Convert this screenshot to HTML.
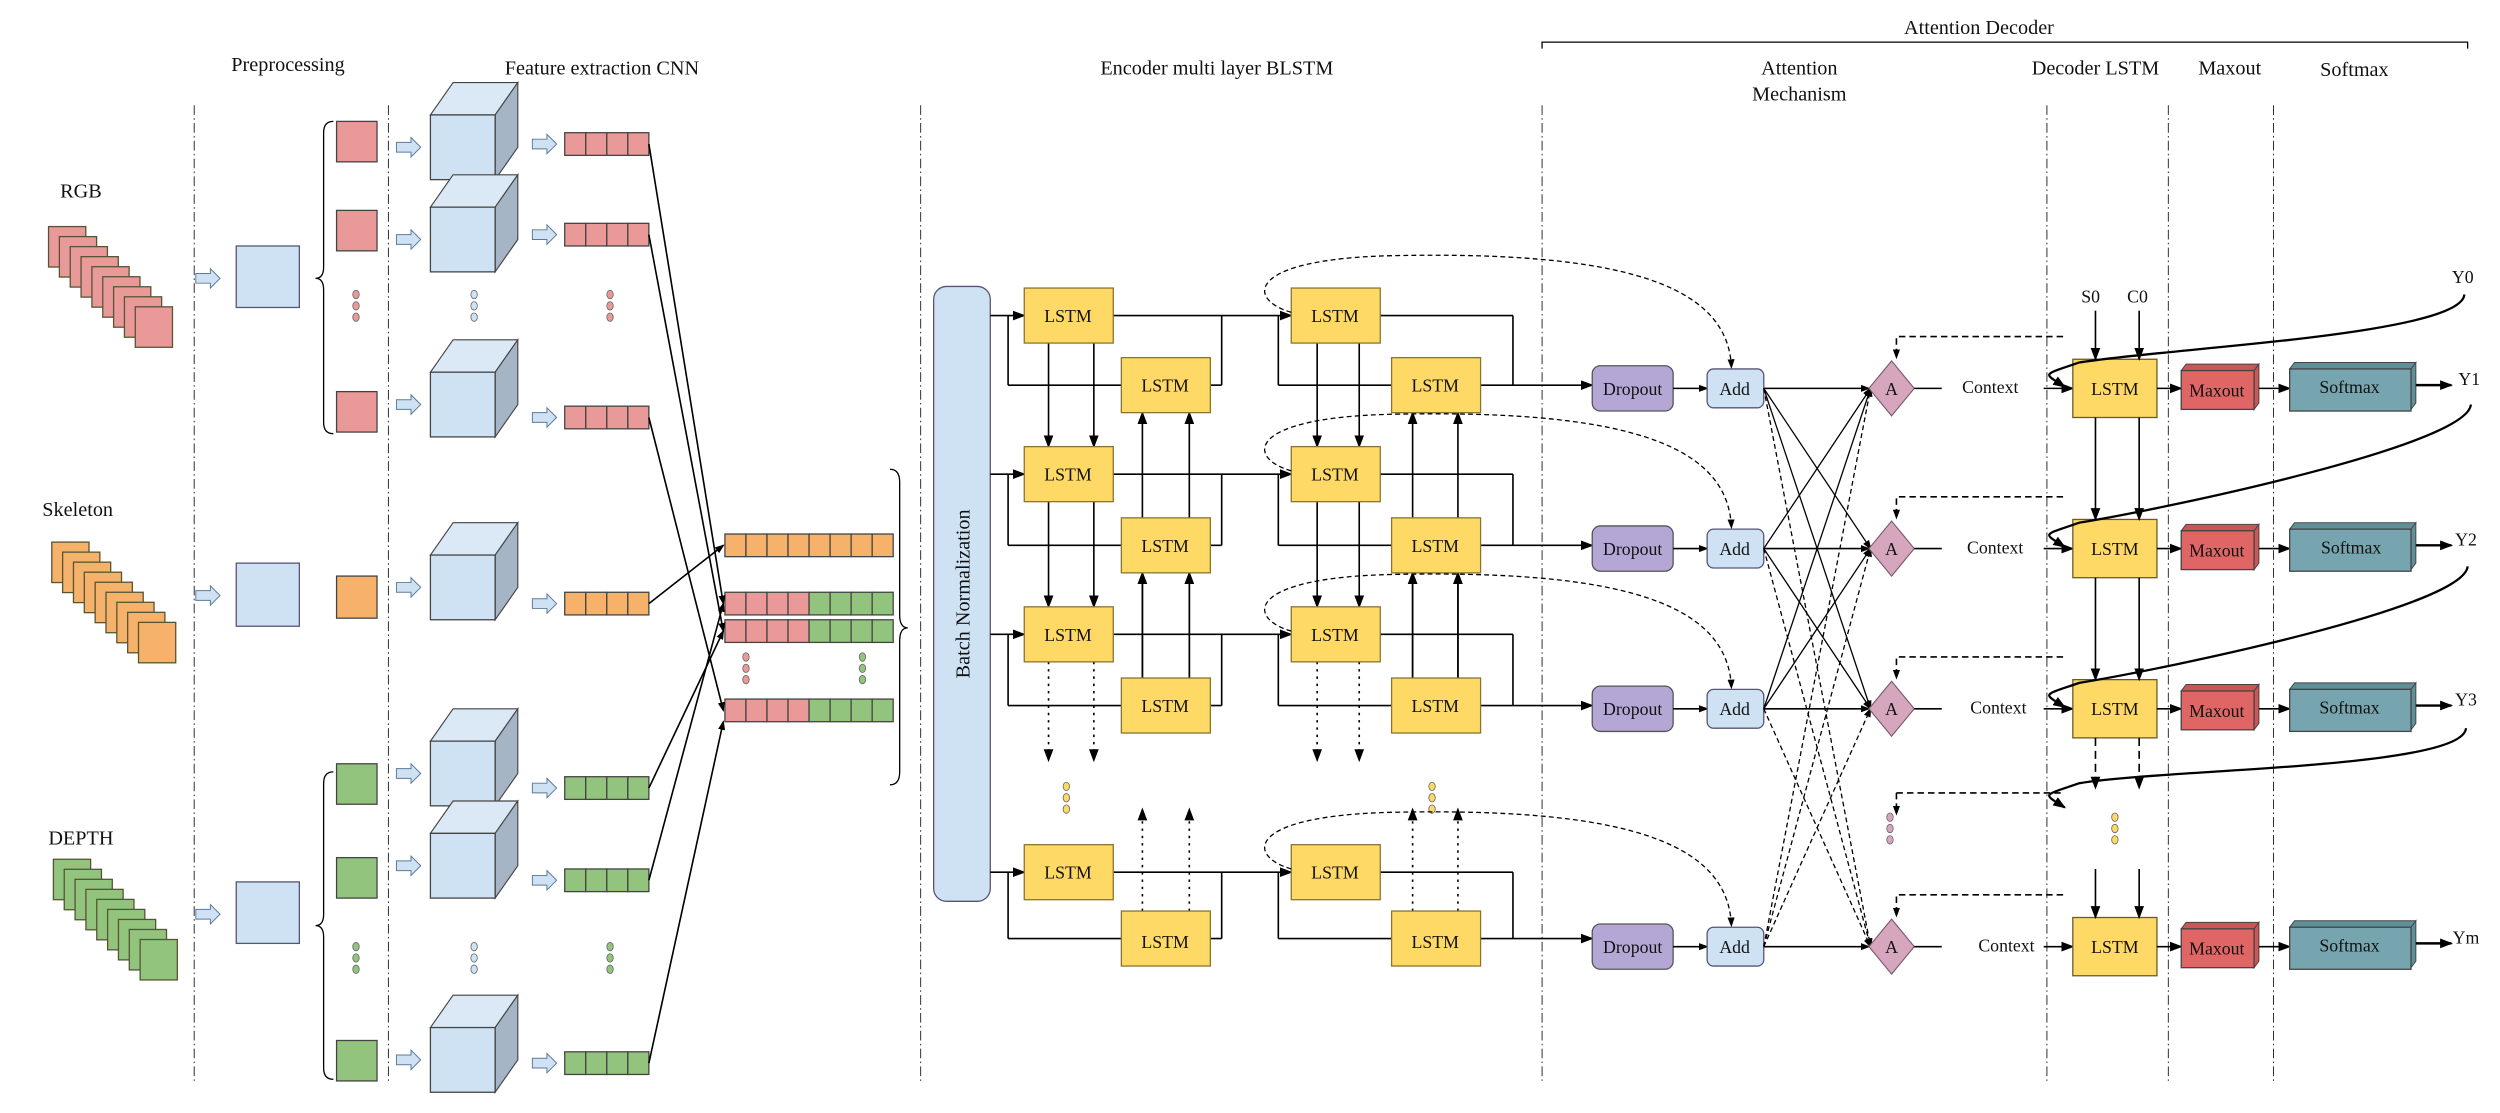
<!DOCTYPE html>
<html><head><meta charset="utf-8"><style>
html,body{margin:0;padding:0;background:#fff;}
svg{display:block;}
text{font-family:"Liberation Serif",serif;fill:#111;}
</style></head><body>
<svg id="s" width="2500" height="1113" viewBox="0 0 1545 687.8" xmlns="http://www.w3.org/2000/svg">
<defs>
<marker id="ah" markerWidth="8" markerHeight="8" refX="7" refY="4" orient="auto" markerUnits="userSpaceOnUse"><path d="M0,1 L8,4 L0,7 z" fill="#000"/></marker>
<marker id="ahs" markerWidth="6" markerHeight="6" refX="5" refY="3" orient="auto" markerUnits="userSpaceOnUse"><path d="M0,0.8 L6,3 L0,5.2 z" fill="#000"/></marker>
</defs>
<g id="geo"></g>
<g id="txt" font-size="11" text-anchor="middle">
<text x="1223" y="21" font-size="12.5">Attention Decoder</text>
<text x="178" y="44" font-size="12.5">Preprocessing</text>
<text x="372" y="46" font-size="12.5">Feature extraction CNN</text>
<text x="752" y="46" font-size="12.5">Encoder multi layer BLSTM</text>
<text x="1112" y="46" font-size="12.5">Attention</text>
<text x="1112" y="62" font-size="12.5">Mechanism</text>
<text x="1295" y="46" font-size="12.5">Decoder LSTM</text>
<text x="1378" y="46" font-size="12.5">Maxout</text>
<text x="1455" y="47" font-size="12.5">Softmax</text>
<text x="50" y="122" font-size="12.5">RGB</text>
<text x="48" y="319" font-size="12.5">Skeleton</text>
<text x="50" y="522" font-size="12.5">DEPTH</text>
<text transform="translate(599,367) rotate(-90)" font-size="12.5">Batch Normalization</text>
<text x="660" y="199">LSTM</text><text x="720" y="242">LSTM</text><text x="825" y="199">LSTM</text><text x="887" y="242">LSTM</text>
<text x="660" y="297">LSTM</text><text x="720" y="341">LSTM</text><text x="825" y="297">LSTM</text><text x="887" y="341">LSTM</text>
<text x="660" y="396">LSTM</text><text x="720" y="440">LSTM</text><text x="825" y="396">LSTM</text><text x="887" y="440">LSTM</text>
<text x="660" y="543">LSTM</text><text x="720" y="586">LSTM</text><text x="825" y="543">LSTM</text><text x="887" y="586">LSTM</text>
<text x="1009" y="244">Dropout</text><text x="1009" y="343">Dropout</text><text x="1009" y="442">Dropout</text><text x="1009" y="589">Dropout</text>
<text x="1072" y="244">Add</text><text x="1072" y="343">Add</text><text x="1072" y="442">Add</text><text x="1072" y="589">Add</text>
<text x="1169" y="244">A</text><text x="1169" y="343">A</text><text x="1169" y="442">A</text><text x="1169" y="589">A</text>
<text x="1230" y="243">Context</text><text x="1233" y="342">Context</text><text x="1235" y="441">Context</text><text x="1240" y="588">Context</text>
<text x="1307" y="244">LSTM</text><text x="1307" y="343">LSTM</text><text x="1307" y="442">LSTM</text><text x="1307" y="589">LSTM</text>
<text x="1370" y="245">Maxout</text><text x="1370" y="344">Maxout</text><text x="1370" y="443">Maxout</text><text x="1370" y="590">Maxout</text>
<text x="1452" y="243">Softmax</text><text x="1453" y="342">Softmax</text><text x="1452" y="441">Softmax</text><text x="1452" y="588">Softmax</text>
<text x="1292" y="187">S0</text><text x="1321" y="187">C0</text>
<text x="1522" y="175">Y0</text><text x="1526" y="238">Y1</text><text x="1524" y="337">Y2</text><text x="1524" y="436">Y3</text><text x="1524" y="583">Ym</text>
</g>
</svg>
<script>
var g=document.getElementById('geo');var h='';
function R(x,y,w,hh,f,st,rx){h+='<rect x="'+x+'" y="'+y+'" width="'+w+'" height="'+hh+'" fill="'+f+'" stroke="'+(st||'#444')+'" stroke-width="0.8"'+(rx?' rx="'+rx+'"':'')+'/>';}
function L(x1,y1,x2,y2,o){h+='<line x1="'+x1+'" y1="'+y1+'" x2="'+x2+'" y2="'+y2+'" stroke="#000" stroke-width="'+((o&&o.w)||1)+'"'+(o&&o.d?' stroke-dasharray="'+o.d+'"':'')+(o&&o.a?' marker-end="url(#'+o.a+')"':'')+'/>';}
function P(d,o){h+='<path d="'+d+'" fill="none" stroke="#000" stroke-width="'+((o&&o.w)||1)+'"'+(o&&o.d?' stroke-dasharray="'+o.d+'"':'')+(o&&o.a?' marker-end="url(#'+o.a+')"':'')+'/>';}
function C(x,y,f){h+='<ellipse cx="'+x+'" cy="'+y+'" rx="2" ry="2.6" fill="'+f+'" stroke="#666" stroke-width="0.5"/>';}
function dots(x,y,f){C(x,y,f);C(x,y+7,f);C(x,y+14,f);}
function barr(x,y){h+='<path d="M'+x+','+(y-3)+' h9 v-3 l6,6 l-6,6 v-3 h-9 z" fill="#cfe2f3" stroke="#5a7a9a" stroke-width="0.6"/>';}
// vertical dash-dot lines
[120,240,569,953,1265,1340,1405].forEach(function(x){L(x,65,x,670,{w:0.5,d:'6 2 1 2'});});
// top bracket
P('M953,30 V26 H1525 V30',{w:0.8});
var red='#ea9999',ora='#f6b26b',grn='#93c47d',blu='#cfe2f3',yel='#ffd966';
function stack(x0,y0,f){for(var i=0;i<9;i++)R(x0+i*6.7,y0+i*6.2,23,25,f,'#553');}
stack(30,140,red);stack(32,335,ora);stack(33,531,grn);
barr(121,172);barr(121,368);barr(121,565);
R(146,152,39,38,blu,'#557');R(146,348,39,39,blu,'#557');R(146,545,39,38,blu,'#557');
// braces
P('M206,75 Q200,75 200,82 V165 Q200,172 195,172 Q200,172 200,179 V261 Q200,268 206,268',{w:0.8});
P('M206,477 Q200,477 200,484 V565 Q200,572 195,572 Q200,572 200,579 V660 Q200,667 206,667',{w:0.8});
P('M550,290 Q556,290 556,298 V380 Q556,388 561,388 Q556,388 556,396 V477 Q556,485 550,485',{w:0.8});
function cube(x,y){h+='<path d="M'+x+','+y+' l14,-20 h40 l-14,20 z" fill="#dbe8f5" stroke="#444" stroke-width="0.7"/>';h+='<path d="M'+(x+40)+','+y+' l14,-20 v40 l-14,20 z" fill="#a5b5c6" stroke="#444" stroke-width="0.7"/>';R(x,y,40,40,blu,'#444');}
function bar(x,y,cols){for(var i=0;i<cols.length;i++)R(x+i*13,y,13,14,cols[i],'#444');}
var rows=[[87,red,91],[142,red,148],[256,red,252],[355,ora,366],[471,grn,481],[529,grn,537],[642,grn,656]];
[[208,75],[208,130],[208,242]].forEach(function(p){R(p[0],p[1],25,25,red,'#444');});
R(208,356,25,26,ora,'#444');
[[208,472],[208,530],[208,643]].forEach(function(p){R(p[0],p[1],25,25,grn,'#444');});
dots(220,182,red);dots(220,585,grn);
var cy=[91,148,250,363,478,535,655],by=[82,138,251,366,480,537,650],cc=[red,red,red,ora,grn,grn,grn];
for(var i=0;i<7;i++){barr(245,cy[i]);cube(266,cy[i]-20);barr(329,by[i]+7);bar(349,by[i],[cc[i],cc[i],cc[i],cc[i]]);}
dots(293,182,'#cfe2f3');dots(293,585,'#cfe2f3');dots(377,182,red);dots(377,585,grn);
var mix=[red,red,red,red,grn,grn,grn,grn];
bar(448,330,[ora,ora,ora,ora,ora,ora,ora,ora]);bar(448,366,mix);bar(448,383,mix);bar(448,432,mix);
dots(461,406,red);dots(533,406,grn);
L(401,89,447,373,{a:'ahs'});L(401,145,447,390,{a:'ahs'});L(401,258,447,439,{a:'ahs'});
L(401,373,447,337,{a:'ahs'});
L(401,487,447,390,{a:'ahs'});L(401,544,447,373,{a:'ahs'});L(401,657,447,446,{a:'ahs'});
// batch norm
R(577,177,35,380,blu,'#557',8);
var yA=[195,293,392,539],yB=[238,337,436,580];
function lb(x,y){R(x,y-17,55,34,yel,'#8a7530');}
for(var r=0;r<4;r++){var a=yA[r],b=yB[r];
 L(612,a,633,a,{a:'ah'});L(688,a,798,a,{a:'ah'});
 L(755,a,755,b);L(748,b,755,b);L(623,a,623,b);L(623,b,693,b);
 L(790,a,790,b);L(790,b,860,b);L(853,a,935,a);L(935,a,935,b);L(915,b,984,b,{a:'ah'});
}
for(var r=0;r<2;r++){
 [648,676,814,840].forEach(function(x){L(x,yA[r]+17,x,yA[r+1]-17,{a:'ah'});});
 [706,735,873,901].forEach(function(x){L(x,yB[r+1]-17,x,yB[r]+17,{a:'ah'});});
}
[648,676,814,840].forEach(function(x){L(x,yA[2]+17,x,470,{d:'1.5 3',a:'ah'});});
[706,735,873,901].forEach(function(x){L(x,yB[2]+17,x,yB[1]+17,{a:'ah'});L(x,563,x,500,{d:'1.5 3',a:'ah'});});
for(var r=0;r<4;r++){lb(633,yA[r]);lb(693,yB[r]);lb(798,yA[r]);lb(860,yB[r]);}
dots(659,486,yel);dots(885,486,yel);
// dashed curves
var dy=[240,339,438,585],ys=[195,293,392,539];
for(var r=0;r<4;r++){var s=ys[r];P('M798,'+(s-2)+' C770,'+(s-10)+' 770,'+(s-35)+' 860,'+(s-37)+' C1000,'+(s-40)+' 1068,'+(s-20)+' 1070,'+(dy[r]-13),{w:0.8,d:'3 2',a:'ahs'});}
// dropout, add
for(var r=0;r<4;r++){var y=dy[r];R(984,y-14,50,28,'#b4a7d6','#555',5);L(1034,y,1055,y,{a:'ahs'});R(1055,y-12,35,24,blu,'#557',4);
 L(1090,y,1155,y,{a:'ahs'});}
// cross lines
for(var i=0;i<4;i++)for(var j=0;j<4;j++){if(i==j)continue;var dash=(i==3||j==3);L(1090,dy[i],1156,dy[j],{w:0.8,d:dash?'3 2':null,a:'ahs'});}
for(var r=0;r<4;r++){var y=dy[r];h+='<path d="M1169,'+(y-17)+' L1183,'+y+' L1169,'+(y+17)+' L1155,'+y+' z" fill="#d5a6bd" stroke="#7a5a6a" stroke-width="0.7"/>';
 L(1183,y,1200,y);L(1263,y,1281,y,{a:'ah'});
 P('M1275,'+(y-32)+' H1172 V'+(y-19),{w:1,d:'4 2.5',a:'ahs'});
 R(1281,y-18,52,36,yel,'#6a5a2a');
 L(1333,y,1348,y,{a:'ah'});
 h+='<path d="M1348,'+(y-11)+' l3,-4 h45 l-3,4 z M1393,'+(y-11)+' l3,-4 v24 l-3,4 z" fill="#c55" stroke="#444" stroke-width="0.6"/>';
 R(1348,y-11,45,24,'#e06666','#444');
 L(1396,y,1415,y,{a:'ah'});
 h+='<path d="M1415,'+(y-12)+' l3,-4 h75 l-3,4 z M1490,'+(y-12)+' l3,-4 v25 l-3,4 z" fill="#5f8f99" stroke="#444" stroke-width="0.6"/>';
 R(1415,y-12,75,26,'#76a5af','#444');
 L(1493,y-2,1515,y-2,{w:1.5,a:'ah'});
}
P('M1172,490 H1275',{d:'4 2.5'});L(1172,490,1172,503,{d:'4 2.5',a:'ahs'});
L(1295,192,1295,222,{a:'ah'});L(1322,192,1322,222,{a:'ah'});
[1295,1322].forEach(function(x){L(x,258,x,321,{a:'ah'});L(x,357,x,420,{a:'ah'});L(x,456,x,487,{d:'5 3',a:'ah'});L(x,537,x,567,{a:'ah'});});
dots(1168,505,'#d5a6bd');dots(1307,505,yel);
// Y curves
var yo=[[1523,182,240],[1527,250,339],[1525,350,438],[1524,450,500]];
yo.forEach(function(c){var t=c[2];P('M'+c[0]+','+c[1]+' C'+(c[0]-2)+','+(c[1]+25)+' 1340,'+(t-25)+' 1285,'+(t-16)+' C1262,'+(t-8)+' 1262,'+(t-10)+' 1276,'+(t-1),{w:1.4,a:'ah'});});
g.innerHTML=h;
</script>
</body></html>
